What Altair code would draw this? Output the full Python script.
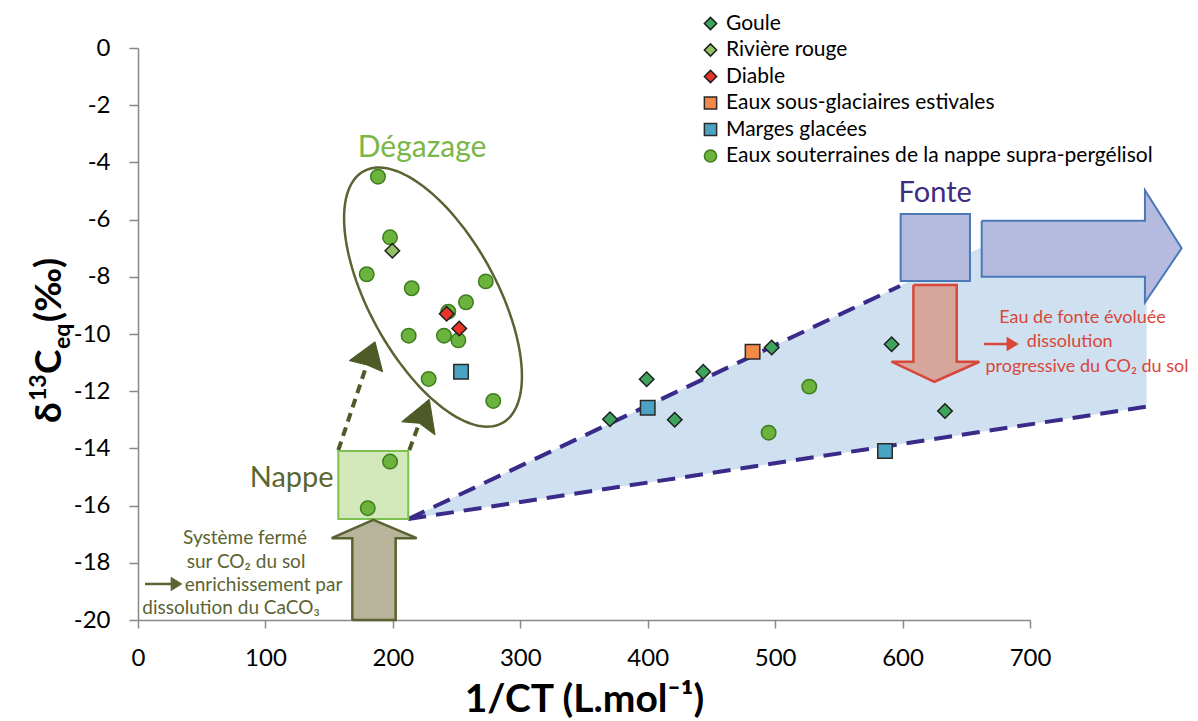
import altair as alt
import pandas as pd
import numpy as np

# ---------------- data ----------------
series_names = ["Goule", "Rivière rouge", "Diable", "Eaux sous-glaciaires estivales",
                "Marges glacées", "Eaux souterraines de la nappe supra-pergélisol"]
series_fill = ["#3fa45b", "#93c062", "#e8352b", "#f5894a", "#4aa3c2", "#6cb33e"]
series_stroke = ["#1e1e1e", "#1e1e1e", "#1e1e1e", "#2a2a2a", "#2a2a2a", "#3e7d1f"]
series_shape = ["diamond", "diamond", "diamond", "square", "square", "circle"]

nappe_x = [188.3, 197.8, 179.5, 214.8, 272.9, 257.4, 243.5, 212.4, 240.1, 251.4, 228.1, 278.8,
           197.8, 180.3, 526.8, 494.9]
nappe_y = [-4.50, -6.62, -7.91, -8.40, -8.16, -8.89, -9.22, -10.06, -10.06, -10.22, -11.57, -12.34,
           -14.46, -16.09, -11.84, -13.45]
goule_x = [370.4, 399.2, 421.2, 443.6, 497.3, 591.4, 633.3]
goule_y = [-12.98, -11.58, -13.00, -11.32, -10.47, -10.36, -12.69]
riviere_x = [199.6]
riviere_y = [-7.09]
diable_x = [242.2, 252.1]
diable_y = [-9.29, -9.81]
sousglac_x = [482.3]
sousglac_y = [-10.62]
marges_x = [253.5, 400.0, 586.2]
marges_y = [-11.32, -12.58, -14.09]

x_ticks = [0, 100, 200, 300, 400, 500, 600, 700]
y_ticks = [-20, -18, -16, -14, -12, -10, -8, -6, -4, -2, 0]

rows = []
for nm, xs, ys in [(series_names[5], nappe_x, nappe_y), (series_names[0], goule_x, goule_y),
                   (series_names[1], riviere_x, riviere_y), (series_names[2], diable_x, diable_y),
                   (series_names[3], sousglac_x, sousglac_y), (series_names[4], marges_x, marges_y)]:
    for a, b in zip(xs, ys):
        rows.append({"series": nm, "x": a, "y": b})
points = pd.DataFrame(rows)

# ---------------- scales / axes / helpers ----------------
xscale = alt.Scale(domain=[0, 700], nice=False, zero=False)
yscale = alt.Scale(domain=[-20, 0], nice=False, zero=False)

xaxis = alt.Axis(values=x_ticks, tickSize=8, labelPadding=37, labelBaseline="alphabetic",
                 labelFontSize=24, labelFont="Lato", labelColor="black", labelFlush=False,
                 title="1/CT (L.mol⁻¹)", titleFontSize=39, titleFont="Lato", titleFontWeight="bold",
                 titleColor="black", titleY=91, titleBaseline="alphabetic",
                 domainColor="#888888", tickColor="#888888", grid=False, domainWidth=1.5, tickWidth=1.5)
yaxis = alt.Axis(values=y_ticks, tickSize=9, labelPadding=19, labelFontSize=24, labelFont="Lato",
                 labelColor="black", labelExpr="'' + datum.value", labelOverlap=False,
                 title="", domainColor="#888888", tickColor="#888888", grid=False, domainWidth=1.5,
                 tickWidth=1.5)


def X(f="x"):
    return alt.X(f, type="quantitative", scale=xscale, axis=xaxis, title="1/CT (L.mol⁻¹)")


def Y(f="y"):
    return alt.Y(f, type="quantitative", scale=yscale, axis=yaxis, title="")


def poly(xs, ys, fill=None, stroke=None, sw=2.0, dash=None, closed=True):
    xs = list(xs)
    ys = list(ys)
    if closed:
        xs = xs + [xs[0]]
        ys = ys + [ys[0]]
    df = pd.DataFrame({"x": xs, "y": ys, "o": list(range(len(xs)))})
    kw = dict(strokeWidth=sw, strokeJoin="miter", interpolate="linear")
    if fill is not None:
        kw["fill"] = fill
    if stroke is not None:
        kw["stroke"] = stroke
    else:
        kw["strokeOpacity"] = 0
    if dash is not None:
        kw["strokeDash"] = dash
    return alt.Chart(df).mark_line(**kw).encode(x=X(), y=Y(), order=alt.Order("o", type="quantitative"))


def txt(x, y, s, size, color, weight="normal", align="center"):
    df = pd.DataFrame({"x": [x], "y": [y], "t": [s]})
    return alt.Chart(df).mark_text(font="Lato", fontSize=size, color=color, fontWeight=weight,
                                   align=align, baseline="middle").encode(x=X(), y=Y(), text="t:N")


layers = []

# blue shaded region (mixing zone)
layers.append(poly([212.1, 660.5, 791.5, 791.5], [-16.47, -7.0, -7.0, -12.54], fill="#cfe1f1", stroke=None, sw=0))
# dashed purple lines
layers.append(poly([212.1, 598.0], [-16.47, -8.32], stroke="#3a2a8a", sw=4, dash=[18, 10], closed=False))
layers.append(poly([212.1, 791.5], [-16.47, -12.54], stroke="#3a2a8a", sw=4, dash=[18, 10], closed=False))

# ellipse (Dégazage)
t = np.linspace(0, 2 * np.pi, 121)
ecx, ecy = 231.5, -8.71
ux, uy = 54.5, -4.40
vx, vy = -43.6, -1.08
layers.append(poly(list(ecx + ux * np.cos(t) + vx * np.sin(t)), list(ecy + uy * np.cos(t) + vy * np.sin(t)),
                   stroke="#5a6332", sw=2.5, closed=False))

# green dashed arrows
olive = "#4e5a27"
layers.append(poly([157.2, 179.5], [-14.06, -11.08], stroke=olive, sw=4, dash=[9, 6], closed=False))
layers.append(poly([212.9, 220.7], [-14.06, -13.12], stroke=olive, sw=4, dash=[9, 6], closed=False))
layers.append(poly([186.0, 165.8, 179.5, 192.0], [-10.27, -10.93, -11.08, -11.32], fill=olive, stroke=olive, sw=1))
layers.append(poly([228.6, 206.9, 220.7, 233.1], [-12.28, -13.07, -13.12, -13.53], fill=olive, stroke=olive, sw=1))

# Nappe box
nappe_box = pd.DataFrame({"x": [157.2], "x2": [212.1], "y": [-14.09], "y2": [-16.47]})
layers.append(alt.Chart(nappe_box).mark_rect(fill="#d3e8bb", stroke="#7dc150", strokeWidth=2)
              .encode(x=X(), x2="x2", y=Y(), y2="y2"))

# tan arrow (up)
layers.append(poly([168.2, 168.2, 152.0, 184.7, 218.7, 202.2, 202.2],
                   [-20.0, -17.14, -17.14, -16.5, -17.14, -17.14, -20.0],
                   fill="#b7b49b", stroke="#5b6130", sw=2.5))

# Fonte box and arrow
fonte_box = pd.DataFrame({"x": [598.5], "x2": [652.9], "y": [-5.80], "y2": [-8.15]})
layers.append(alt.Chart(fonte_box).mark_rect(fill="#b5badf", stroke="#4b78b7", strokeWidth=2)
              .encode(x=X(), x2="x2", y=Y(), y2="y2"))
layers.append(poly([662.1, 790.2, 790.2, 819.0, 790.2, 790.2, 662.1],
                   [-6.04, -6.04, -4.97, -7.0, -8.90, -8.00, -8.00],
                   fill="#b5badf", stroke="#4b78b7", sw=2))

# red arrow (down)
layers.append(poly([608.5, 642.5, 642.5, 660.3, 625.0, 591.3, 608.5],
                   [-8.29, -8.29, -10.97, -10.97, -11.67, -10.97, -10.97],
                   fill="#d6a59c", stroke="#d9473a", sw=2.5))

# points
leg = alt.Legend(orient="none", legendX=562, legendY=-35, title=None, labelFont="Lato", labelFontSize=21,
                 labelColor="black", symbolSize=150, symbolStrokeWidth=1.5, rowPadding=4.5, labelOffset=5,
                 padding=0, labelLimit=600, direction="vertical")
pts = alt.Chart(points).mark_point(filled=True, size=210, strokeWidth=1.5, opacity=1).encode(
    x=X(),
    y=Y(),
    fill=alt.Fill("series:N", scale=alt.Scale(domain=series_names, range=series_fill), legend=leg),
    stroke=alt.Stroke("series:N", scale=alt.Scale(domain=series_names, range=series_stroke), legend=leg),
    shape=alt.Shape("series:N", scale=alt.Scale(domain=series_names, range=series_shape), legend=leg),
)
layers.append(pts)

# annotation texts
layers.append(txt(222.9, -3.50, "Dégazage", 30, "#7ab648"))
layers.append(txt(120.6, -15.05, "Nappe", 29, "#5c6633"))
layers.append(txt(625.6, -5.08, "Fonte", 29, "#3d2c80"))

red = "#d9463a"
layers.append(txt(741.2, -9.45, "Eau de fonte évoluée", 18, red))
layers.append(txt(731.2, -10.29, "dissolution", 18, red))
layers.append(txt(744.7, -11.14, "progressive du CO₂ du sol", 18, red))
layers.append(poly([664.0, 684.0], [-10.35, -10.35], stroke=red, sw=2.5, closed=False))
layers.append(poly([690.5, 682.0, 682.0], [-10.35, -10.12, -10.58], fill=red, stroke=red, sw=1))

ol = "#5a6332"
layers.append(txt(84.0, -17.13, "Système fermé", 19, ol))
layers.append(txt(84.8, -17.97, "sur CO₂ du sol", 19, ol))
layers.append(txt(98.5, -18.78, "enrichissement par", 19, ol))
layers.append(txt(73.0, -19.58, "dissolution du CaCO₃", 19, ol))
layers.append(poly([5.5, 27.0], [-18.74, -18.74], stroke=ol, sw=2.5, closed=False))
layers.append(poly([34.3, 26.0, 26.0], [-18.74, -18.51, -18.97], fill=ol, stroke=ol, sw=1))

# y-axis title (composed: δ13Ceq (‰))
ytitle_parts = [("δ", 37, -77, 375), ("13", 23, -92, 353), ("C", 37, -77, 326),
                ("eq", 23, -68, 301), (" (‰)", 37, -77, 274)]
for s, fs, px, py in ytitle_parts:
    layers.append(alt.Chart(pd.DataFrame({"t": [s]})).mark_text(
        font="Lato", fontSize=fs, fontWeight="bold", color="black", angle=270, align="left",
        baseline="alphabetic").encode(x=alt.value(px), y=alt.value(py), text="t:N"))

chart = alt.layer(*layers).properties(
    width=892, height=572,
    autosize=alt.AutoSizeParams(type="none"),
    padding={"left": 130, "top": 40, "right": 160, "bottom": 100},
).configure(font="Lato", background="white").configure_view(stroke=None)

chart.save("out.html", embed_options={"renderer": "svg", "actions": False})
